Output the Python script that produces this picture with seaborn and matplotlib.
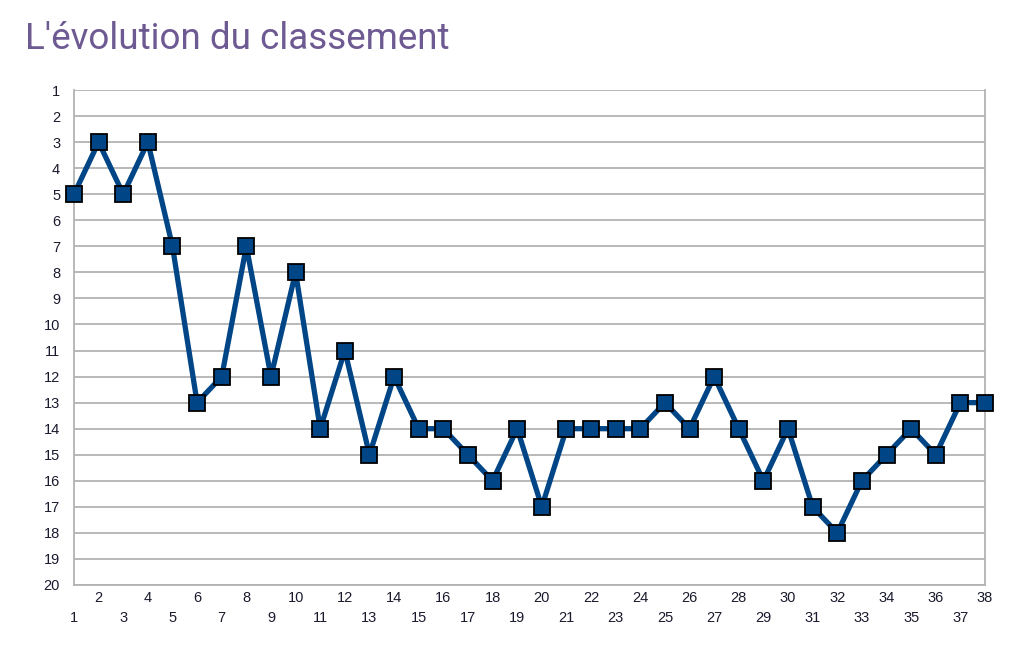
import matplotlib
matplotlib.use("Agg")
import matplotlib.pyplot as plt
import seaborn as sns
import pandas as pd

# classement par journée
journees = list(range(1, 39))
classement = [5, 3, 5, 3, 7, 13, 12, 7, 12, 8,
              14, 11, 15, 12, 14, 14, 15, 16, 14, 17,
              14, 14, 14, 14, 13, 14, 12, 14, 16, 14,
              17, 18, 16, 15, 14, 15, 13, 13]
rangs = list(range(1, 21))

df = pd.DataFrame({"journee": journees, "rang": classement})

sns.set_style("white")
plt.rcParams["font.family"] = ["Liberation Sans", "DejaVu Sans"]

fig = plt.figure(figsize=(10.15, 6.55), dpi=100)
ax = fig.add_axes([74 / 1015, 1 - 585 / 655, 911 / 1015, 495 / 655])

sns.lineplot(data=df, x="journee", y="rang", ax=ax, color="#004586",
             linewidth=3.8, marker="s", markersize=12,
             markeredgecolor="black", markeredgewidth=1.3, zorder=3,
             clip_on=False)

ax.set_xlim(1, 38)
ax.set_ylim(20, 1)
ax.set_yticks(rangs)
ax.set_yticklabels([str(r) for r in rangs])
ax.set_xticks(journees)
ax.set_xticklabels([str(j) if j % 2 == 0 else "\n" + str(j) for j in journees],
                   linespacing=1.6)

ax.yaxis.grid(True, color="#b3b3b3", linewidth=1.3)
ax.xaxis.grid(False)
for side in ["left", "bottom", "right", "top"]:
    ax.spines[side].set_color("#b3b3b3")
    ax.spines[side].set_linewidth(1.3)
ax.spines["top"].set_visible(False)

ax.tick_params(axis="y", direction="out", length=7, width=1.3,
               color="#b3b3b3", labelsize=10.5, labelcolor="#1a1a2e", pad=3)
ax.tick_params(axis="x", direction="in", length=9, width=1.3,
               color="#b3b3b3", labelsize=10.5, labelcolor="#1a1a2e", pad=4)
ax.set_xlabel("")
ax.set_ylabel("")

fig.text(25 / 1015, 1 - 49 / 655, "L'évolution du classement",
         fontsize=26.5, color="#6e5a92", family=["Roboto", "DejaVu Sans"],
         ha="left", va="baseline")

fig.savefig("out.png", dpi=100)
